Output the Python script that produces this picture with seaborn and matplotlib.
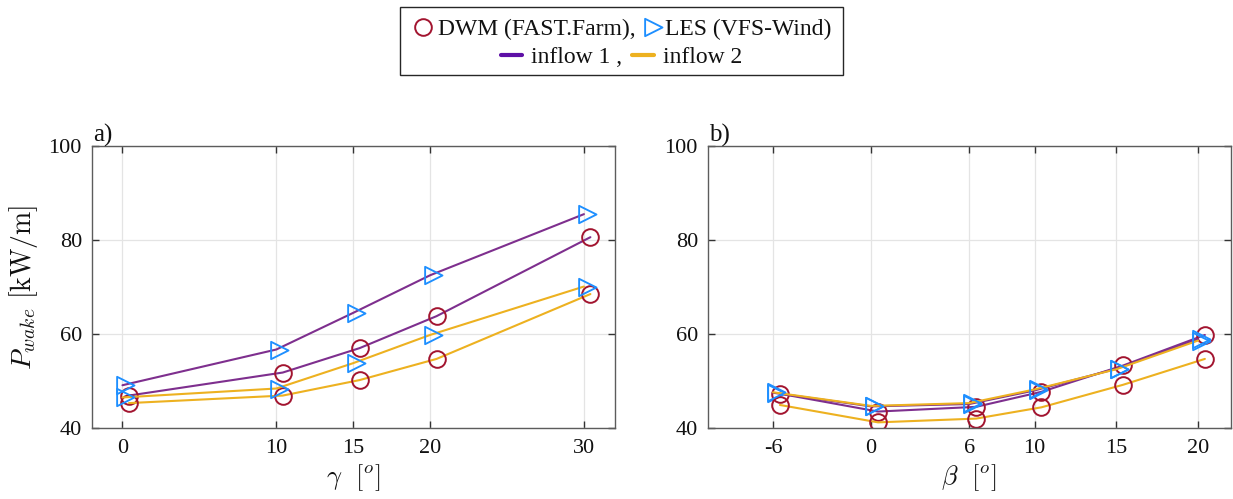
import numpy as np
import pandas as pd
import matplotlib
matplotlib.use("Agg")
import matplotlib.pyplot as plt
from matplotlib.lines import Line2D
from matplotlib.patches import Rectangle
from matplotlib.path import Path
import seaborn as sns

# ---- data: wake power vs. yaw angle (panel a) ----
gamma = [0, 10, 15, 20, 30]
les_gamma_in1 = [49.1, 56.7, 64.5, 72.5, 85.5]
dwm_gamma_in1 = [46.9, 51.8, 57.0, 63.8, 80.6]
les_gamma_in2 = [46.5, 48.4, 53.8, 59.8, 70.1]
dwm_gamma_in2 = [45.3, 46.9, 50.2, 54.7, 68.5]

# ---- data: wake power vs. tilt angle (panel b) ----
beta = [-6, 0, 6, 10, 15, 20]
les_beta_in1 = [47.5, 44.6, 45.1, 48.0, 52.6, 58.9]
dwm_beta_in1 = [47.3, 43.5, 44.5, 47.7, 53.3, 59.8]
les_beta_in2 = [47.6, 44.7, 45.3, 48.2, 52.5, 58.6]
dwm_beta_in2 = [44.9, 41.2, 42.0, 44.4, 49.2, 54.7]

y_ticks = [40, 60, 80, 100]
legend_models = ["DWM (FAST.Farm),", "LES (VFS-Wind)"]
legend_inflows = ["inflow 1 ,", "inflow 2"]

# ---- styling ----
LINE_COLORS = {"inflow 1": "#7E2F8E", "inflow 2": "#EDB120"}
LEGEND_LINE_COLORS = {"inflow 1": "#5E10A6", "inflow 2": "#EDB120"}
EDGE_COLORS = {"DWM": "#A2142F", "LES": "#1E8FFF"}
DWM_SHIFT = 0.42          # small horizontal dodge of the DWM markers

# right-pointing triangle, shifted so the outline sits slightly right of the point
TRI_C = 0.38
tri_path = Path([(-1 + TRI_C, 1), (-1 + TRI_C, -1), (1 + TRI_C, 0), (-1 + TRI_C, 1)],
                [Path.MOVETO, Path.LINETO, Path.LINETO, Path.CLOSEPOLY])
TRI_SIZE = 12.5
TRI_MS = TRI_SIZE * (1 + TRI_C)          # compensates marker normalisation
MARKERS = {"DWM": ("o", 12.0, 1.4), "LES": (tri_path, TRI_MS, 1.35)}

sns.set_style("ticks")
plt.rcParams["font.family"] = ["Liberation Serif", "DejaVu Serif"]
plt.rcParams["mathtext.fontset"] = "cm"
plt.rcParams["axes.unicode_minus"] = False

W, H = 1233, 499
fig = plt.figure(figsize=(W / 100, H / 100), dpi=100)

ax_w = 523 / W
ax_h = 282 / H
ax_bottom = 71 / H
ax_a = fig.add_axes([91.7 / W, ax_bottom, ax_w, ax_h])
ax_b = fig.add_axes([707.7 / W, ax_bottom, ax_w, ax_h])


def draw_panel(ax, angles, series):
    for inflow, model, values in series:
        shift = DWM_SHIFT if model == "DWM" else 0.0
        df = pd.DataFrame({"angle": np.asarray(angles, float) + shift,
                           "power": values})
        mk, ms, mew = MARKERS[model]
        sns.lineplot(data=df, x="angle", y="power", ax=ax,
                     color=LINE_COLORS[inflow], linewidth=1.5,
                     marker=mk, markersize=ms, markerfacecolor="none",
                     markeredgecolor=EDGE_COLORS[model], markeredgewidth=mew,
                     estimator=None, errorbar=None, legend=False)


draw_panel(ax_a, gamma, [("inflow 1", "DWM", dwm_gamma_in1),
                         ("inflow 1", "LES", les_gamma_in1),
                         ("inflow 2", "DWM", dwm_gamma_in2),
                         ("inflow 2", "LES", les_gamma_in2)])
draw_panel(ax_b, beta, [("inflow 1", "DWM", dwm_beta_in1),
                        ("inflow 1", "LES", les_beta_in1),
                        ("inflow 2", "DWM", dwm_beta_in2),
                        ("inflow 2", "LES", les_beta_in2)])

for ax, ticks, xlim, xlabel, tag in [
        (ax_a, gamma, (-2, 32), r"$\gamma\ \ [^o]$", "a)"),
        (ax_b, beta, (-10, 22), r"$\beta\ \ [^o]$", "b)")]:
    ax.set_xlim(*xlim)
    ax.set_ylim(40, 100)
    ax.set_xticks(ticks)
    ax.set_xticklabels([str(t) for t in ticks])
    ax.set_yticks(y_ticks)
    ax.set_yticklabels([str(t) for t in y_ticks])
    ax.grid(True, color="#e4e4e4", linewidth=0.9)
    ax.set_axisbelow(True)
    for sp in ax.spines.values():
        sp.set_visible(True)
        sp.set_color("#5c5c5c")
        sp.set_linewidth(1.0)
    ax.tick_params(direction="in", top=True, right=True, length=5, width=1.0,
                   color="#333333", labelsize=16, labelcolor="#111111")
    ax.tick_params(axis="x", pad=8)
    ax.tick_params(axis="y", pad=7)
    ax.set_xlabel(xlabel, fontsize=19, labelpad=3, color="#111111")
    ax.set_ylabel("")
    ax.text(0.003, 1.016, tag, transform=ax.transAxes, ha="left", va="baseline",
            fontsize=18, color="#111111")

ax_a.set_ylabel(r"$P_{wake}\ [\mathrm{kW/m}]$", fontsize=20, labelpad=6,
                color="#111111")

# ---- legend: two centred rows inside one frame ----
cx = 621.5 / W
row_models = [Line2D([], [], ls="none", marker=MARKERS[m][0], markersize=MARKERS[m][1],
                     markerfacecolor="none", markeredgecolor=EDGE_COLORS[m],
                     markeredgewidth=MARKERS[m][2]) for m in ("DWM", "LES")]
row_inflows = [Line2D([], [], color=LEGEND_LINE_COLORS[k], linewidth=3.0)
               for k in ("inflow 1", "inflow 2")]

fig.legend(row_models, legend_models, ncol=2, loc="center",
           bbox_to_anchor=(cx, 1 - 29 / H), frameon=False, fontsize=17,
           handlelength=1.0, handletextpad=0.15, columnspacing=0.1,
           borderpad=0, borderaxespad=0, labelcolor="#111111")
fig.legend(row_inflows, legend_inflows, ncol=2, loc="center",
           bbox_to_anchor=(cx, 1 - 57 / H), frameon=False, fontsize=17,
           handlelength=0.9, handletextpad=0.38, columnspacing=0.42,
           borderpad=0, borderaxespad=0, labelcolor="#111111")
fig.add_artist(Rectangle((400 / W, 1 - 75 / H), 443 / W, 67.7 / H,
                         transform=fig.transFigure, fill=False,
                         edgecolor="#262626", linewidth=1.0))

fig.savefig("out.png", dpi=100)
